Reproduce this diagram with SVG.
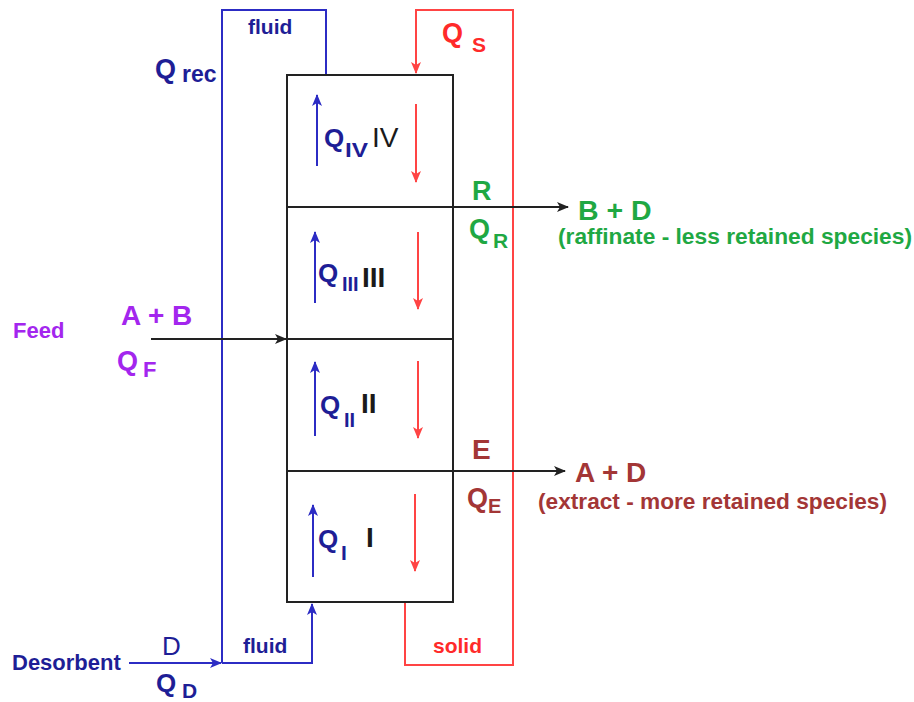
<svg xmlns="http://www.w3.org/2000/svg" width="914" height="702" viewBox="0 0 914 702">
<style>
text{font-family:"Liberation Sans",Arial,sans-serif}
.b{font-weight:bold}
.blue{fill:#1e1e96}
.red{fill:#ff2a2a}
.grn{fill:#1fa843}
.pur{fill:#a326ee}
.mar{fill:#a33636}
.blk{fill:#1a1a1a}
.lb{stroke:#2c2cc4;stroke-width:2;fill:none}
.lr{stroke:#ff4444;stroke-width:2;fill:none}
.lk{stroke:#222;stroke-width:2;fill:none}
</style>
<defs>
<marker id="ak" markerUnits="userSpaceOnUse" markerWidth="12" markerHeight="10" refX="11" refY="5" orient="auto"><path d="M0,0 L12,5 L0,10 L3,5 z" fill="#222"/></marker>
<marker id="ab" markerUnits="userSpaceOnUse" markerWidth="12" markerHeight="10" refX="11" refY="5" orient="auto"><path d="M0,0 L12,5 L0,10 L3,5 z" fill="#2c2cc4"/></marker>
<marker id="ar" markerUnits="userSpaceOnUse" markerWidth="12" markerHeight="10" refX="11" refY="5" orient="auto"><path d="M0,0 L12,5 L0,10 L3,5 z" fill="#ff4444"/></marker>
</defs>
<rect width="914" height="702" fill="#fff"/>

<g id="connectors">
<path class="lb" d="M222,663 L222,10 L326,10 L326,75"/>
<path class="lb" d="M222,663 L312,663 L312,604" marker-end="url(#ab)"/>
<path class="lb" d="M129,663 L221,663" marker-end="url(#ab)"/>
<path class="lr" d="M405,602 L405,665 L513,665 L513,10 L416,10 L416,73" marker-end="url(#ar)"/>
<path class="lk" d="M151,339 L286,339" marker-end="url(#ak)"/>
<path class="lk" d="M286,339 L453,339"/>
<path class="lk" d="M287,207 L568,207" marker-end="url(#ak)"/>
<path class="lk" d="M287,471 L565,471" marker-end="url(#ak)"/>
</g>

<g id="column">
<rect x="287" y="75" width="166" height="527" class="lk"/>
</g>

<g id="zone-IV">
<path class="lb" d="M317,166 L317,95" marker-end="url(#ab)"/>
<path class="lr" d="M416,104 L416,182" marker-end="url(#ar)"/>
<text class="b blue" x="324" y="147" font-size="26">Q</text>
<text class="b blue" x="345" y="157" font-size="20" textLength="23" lengthAdjust="spacingAndGlyphs">IV</text>
<text class="blk" x="372" y="147" font-size="28">IV</text>
</g>

<g id="zone-III">
<path class="lb" d="M315,303 L315,232" marker-end="url(#ab)"/>
<path class="lr" d="M418,232 L418,309" marker-end="url(#ar)"/>
<text class="b blue" x="318" y="282" font-size="26">Q</text>
<text class="b blue" x="342" y="291" font-size="20">III</text>
<text class="b blk" x="362" y="287" font-size="28">III</text>
</g>

<g id="zone-II">
<path class="lb" d="M315,436 L315,362" marker-end="url(#ab)"/>
<path class="lr" d="M418,361 L418,438" marker-end="url(#ar)"/>
<text class="b blue" x="320" y="414" font-size="26">Q</text>
<text class="b blue" x="344" y="427" font-size="20">II</text>
<text class="b blk" x="361" y="413" font-size="28">II</text>
</g>

<g id="zone-I">
<path class="lb" d="M313,577 L313,505" marker-end="url(#ab)"/>
<path class="lr" d="M415,494 L415,571" marker-end="url(#ar)"/>
<text class="b blue" x="318" y="548" font-size="26">Q</text>
<text class="b blue" x="341" y="560" font-size="21">I</text>
<text class="b blk" x="366" y="547" font-size="28">I</text>
</g>

<g id="recycle">
<text class="b blue" x="155" y="78" font-size="27">Q</text>
<text class="b blue" x="182" y="82" font-size="23">rec</text>
<text class="b blue" x="248" y="34" font-size="21">fluid</text>
</g>

<g id="solid-flow">
<text class="b red" x="442" y="42" font-size="27">Q</text>
<text class="b red" x="472" y="52" font-size="21">S</text>
<text class="b red" x="433" y="653" font-size="21">solid</text>
</g>

<g id="raffinate">
<text class="b grn" x="472" y="200" font-size="27">R</text>
<text class="b grn" x="469" y="238" font-size="27">Q</text>
<text class="b grn" x="493" y="248" font-size="21">R</text>
<text class="b grn" x="578" y="220" font-size="28.5">B + D</text>
<text class="b grn" x="558" y="244" font-size="22" textLength="354" lengthAdjust="spacingAndGlyphs">(raffinate - less retained species)</text>
</g>

<g id="feed">
<text class="b pur" x="13" y="338" font-size="22">Feed</text>
<text class="b pur" x="121" y="325" font-size="28">A + B</text>
<text class="b pur" x="117" y="370" font-size="27">Q</text>
<text class="b pur" x="143" y="377" font-size="22">F</text>
</g>

<g id="extract">
<text class="b mar" x="472" y="459" font-size="28">E</text>
<text class="b mar" x="467" y="507" font-size="27">Q</text>
<text class="b mar" x="488" y="513" font-size="20">E</text>
<text class="b mar" x="575" y="482" font-size="28">A + D</text>
<text class="b mar" x="538" y="509" font-size="22" textLength="349" lengthAdjust="spacingAndGlyphs">(extract - more retained species)</text>
</g>

<g id="desorbent">
<text class="b blue" x="12" y="670" font-size="22">Desorbent</text>
<text class="blue" x="162" y="655" font-size="26">D</text>
<text class="b blue" x="156" y="692" font-size="26">Q</text>
<text class="b blue" x="182" y="698" font-size="21">D</text>
<text class="b blue" x="243" y="653" font-size="21">fluid</text>
</g>
</svg>
